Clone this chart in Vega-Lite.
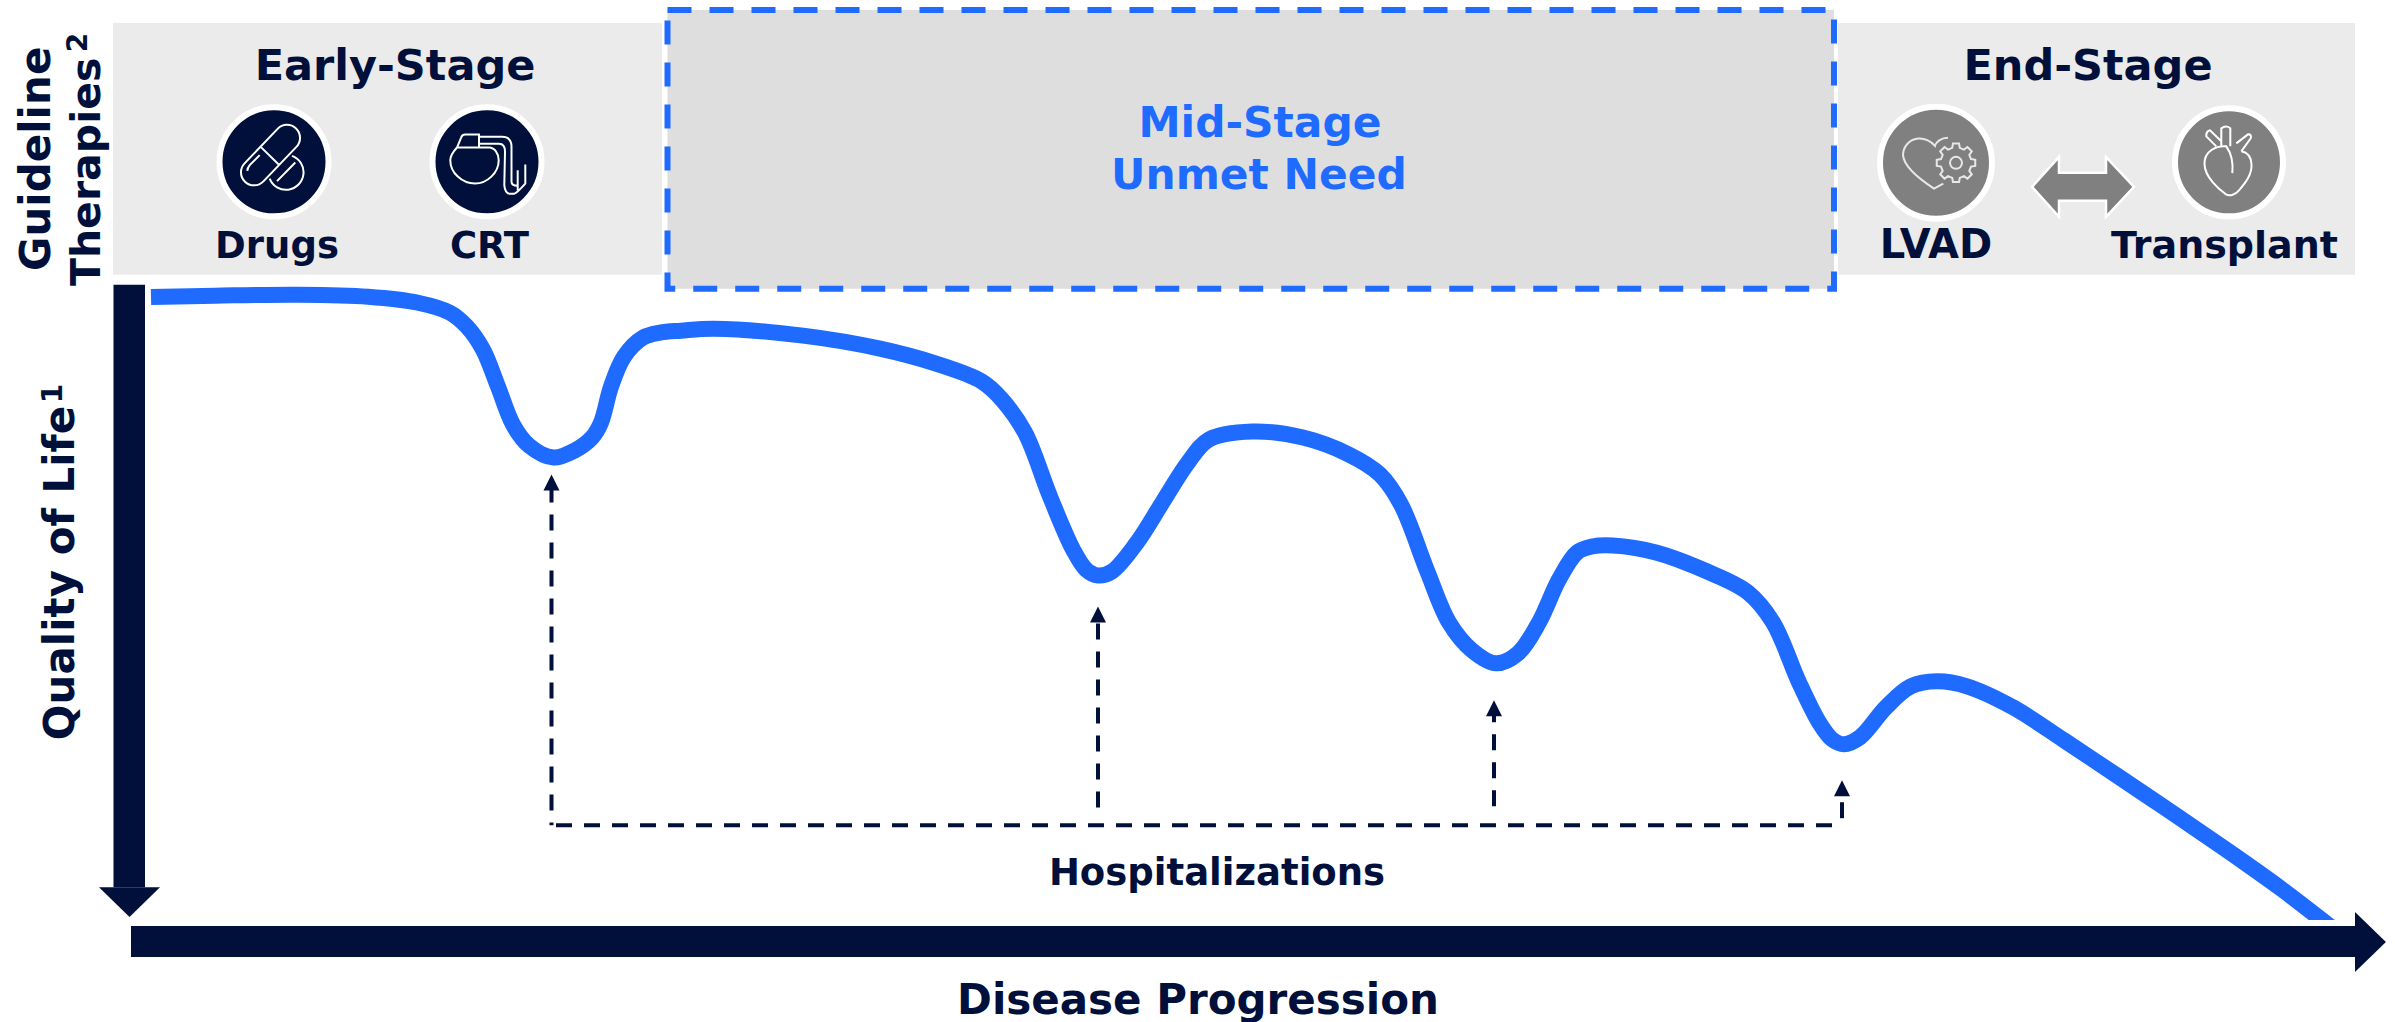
{"$schema":"https://vega.github.io/schema/vega-lite/v6.json","width":2395,"height":1022,"padding":0,"autosize":{"type":"fit","contains":"padding"},"background":"white","config":{"view":{"stroke":null},"style":{"cell":{"stroke":null}}},
"encoding":{"x":{"field":"x","type":"quantitative","axis":null,"scale":{"domain":[0,2395],"nice":false,"zero":false}},"y":{"field":"y","type":"quantitative","axis":null,"scale":{"domain":[1022,0],"nice":false,"zero":false}}},
"layer":[
{"data":{"values":[{"x":113,"x2":662,"y":23,"y2":275,"stage":"Early"},{"x":1838,"x2":2355,"y":23,"y2":275,"stage":"End"}]},"mark":{"type":"rect","fill":"#ebebeb"},"encoding":{"x2":{"field":"x2"},"y2":{"field":"y2"}}},
{"data":{"values":[{"x":667.5,"x2":1834,"y":10,"y2":289,"stage":"Mid"}]},"mark":{"type":"rect","fill":"#dedede","stroke":"#1f6bff","strokeWidth":6,"strokeDash":[24,18]},"encoding":{"x2":{"field":"x2"},"y2":{"field":"y2"}}},
{"data":{"values":[{"x":274,"y":162},{"x":487,"y":162}]},"mark":{"type":"point","shape":"circle","filled":true,"opacity":1,"fill":"#010f3b","stroke":"white","strokeWidth":6,"size":11881},"encoding":{}},
{"data":{"values":[{"x":1936,"y":163}]},"mark":{"type":"point","shape":"circle","filled":true,"opacity":1,"fill":"#808080","stroke":"white","strokeWidth":6,"size":12544},"encoding":{}},
{"data":{"values":[{"x":2229,"y":162.5}]},"mark":{"type":"point","shape":"circle","filled":true,"opacity":1,"fill":"#808080","stroke":"white","strokeWidth":6,"size":11664},"encoding":{}},
{"data":{"values":[{"x":274,"y":162,"icon":"Drugs"}]},"mark":{"type":"point","filled":false,"opacity":1,"stroke":"white","strokeWidth":2,"size":4,"shape":"M22.4,-15L-10.6,19.5A13,13,0,0,1,-29.4,1.5L3.6,-33A13,13,0,0,1,22.4,-15ZM-13.3,-15L4.7,2.7M-14.3,-6.7L-24.3,3.3Q-26.5,6,-26.7,9M18,-6A17.5,17.5,0,1,1,-4.3,16.7M21.3,0.7L3,19.3"},"encoding":{}},
{"data":{"values":[{"x":487,"y":162,"icon":"CRT"}]},"mark":{"type":"point","filled":false,"opacity":1,"stroke":"white","strokeWidth":2,"size":4,"shape":"M-30,-14.3L2,-14.3C8,-14,11.7,-8,11.7,-1.7C11.7,11,0,21.7,-12,21.7C-25,21.7,-36.7,11,-36.7,-1.7C-36.7,-6,-33,-11,-30,-14.3M-30,-14.3L-26,-24Q-25,-27.3,-22,-27.3L-8,-27.3L-8,-14.3M-8,-25L15,-25Q24.5,-25,24.5,-15L24.5,20Q24.5,24,30.7,24M-8,-18L12,-18Q18,-18,18,-10L17.3,23.3Q18,32,23.3,32L27,32Q30,31,38.3,21.7L38.3,2.7M30.7,8.3L30.7,28.3"},"encoding":{}},
{"data":{"values":[{"x":1936,"y":163,"icon":"LVAD heart"}]},"mark":{"type":"point","filled":false,"opacity":1,"stroke":"#e8e8e8","strokeWidth":2,"size":4,"shape":"M12,-25C5,-25,0,-21,-1,-17C-5,-22,-12,-25,-18,-24.3C-28,-23,-33,-15,-33,-7.7C-32,4,-17,16,-2,25.7L7.3,20.7"},"encoding":{}},
{"data":{"values":[{"x":1956,"y":163,"icon":"LVAD gear"}]},"mark":{"type":"point","filled":false,"opacity":1,"stroke":"#e8e8e8","strokeWidth":2,"size":4,"shape":"M15.04,-3.75L19.26,-3.05L19.26,3.05L15.04,3.75L13.29,7.98L15.78,11.46L11.46,15.78L7.98,13.29L3.75,15.04L3.05,19.26L-3.05,19.26L-3.75,15.04L-7.98,13.29L-11.46,15.78L-15.78,11.46L-13.29,7.98L-15.04,3.75L-19.26,3.05L-19.26,-3.05L-15.04,-3.75L-13.29,-7.98L-15.78,-11.46L-11.46,-15.78L-7.98,-13.29L-3.75,-15.04L-3.05,-19.26L3.05,-19.26L3.75,-15.04L7.98,-13.29L11.46,-15.78L15.78,-11.46L13.29,-7.98ZM6,0A6,6,0,1,1,-6,0A6,6,0,1,1,6,0Z"},"encoding":{}},
{"data":{"values":[{"x":2229,"y":162.5,"icon":"Heart"}]},"mark":{"type":"point","filled":false,"opacity":1,"stroke":"white","strokeWidth":2,"size":4,"shape":"M-2,-16C-12,-17,-25,-12,-24.5,2C-24,15,-10,27,-3,32C0,34,6,33,10,28C17,20,23,12,22.5,2C22,-6,18,-10,12.3,-11M-12.7,-16L-22.7,-26Q-23,-31,-19,-32L-7.7,-21M-7.7,-16L-7.7,-34Q-3,-37.5,1.3,-34L1.3,-16M7.3,-19L19,-28Q23,-28,21.7,-24L12.3,-11M-2.7,-16Q5,-5,3.3,10.7"},"encoding":{}},
{"data":{"values":[{"x":2083,"y":187,"icon":"Double arrow"}]},"mark":{"type":"point","filled":true,"opacity":1,"fill":"#808080","stroke":"white","strokeWidth":2.5,"size":4,"shape":"M-51,0L-24,-30L-24,-14L23,-14L23,-30L51,0L23,30L23,14L-24,14L-24,30Z"},"encoding":{}},
{"data":{"values":[{"x":151,"y":297.3},{"x":215,"y":296},{"x":299,"y":295},{"x":368,"y":297},{"x":418,"y":303},{"x":450,"y":313},{"x":467,"y":327},{"x":483,"y":350},{"x":498,"y":387},{"x":513,"y":425},{"x":529,"y":446},{"x":553.5,"y":458},{"x":574.5,"y":451},{"x":592,"y":438},{"x":601,"y":423},{"x":611,"y":387},{"x":624,"y":357},{"x":643,"y":338},{"x":660,"y":333},{"x":681,"y":331},{"x":714,"y":329},{"x":803,"y":336},{"x":880,"y":349},{"x":936,"y":364},{"x":982,"y":382},{"x":1002,"y":400},{"x":1025,"y":433},{"x":1050,"y":497},{"x":1073,"y":550},{"x":1086,"y":570},{"x":1098,"y":576},{"x":1112,"y":572},{"x":1137,"y":543},{"x":1163,"y":502},{"x":1188,"y":463},{"x":1209,"y":440},{"x":1252,"y":432},{"x":1303,"y":438},{"x":1349,"y":455},{"x":1380,"y":475},{"x":1401,"y":505},{"x":1427,"y":571},{"x":1449,"y":623},{"x":1472,"y":651},{"x":1496,"y":664},{"x":1518,"y":654},{"x":1539,"y":623},{"x":1559,"y":580},{"x":1577,"y":553},{"x":1592,"y":547},{"x":1613,"y":546},{"x":1656,"y":553},{"x":1707,"y":572},{"x":1748,"y":593},{"x":1773,"y":623},{"x":1799,"y":683},{"x":1819,"y":723},{"x":1832,"y":740},{"x":1844,"y":745},{"x":1860,"y":738},{"x":1886,"y":708},{"x":1911,"y":687},{"x":1937,"y":682},{"x":1967,"y":687},{"x":2013,"y":708},{"x":2064,"y":741},{"x":2118,"y":777},{"x":2161,"y":806},{"x":2202,"y":834},{"x":2244,"y":863},{"x":2283,"y":891},{"x":2322,"y":921},{"x":2342,"y":937}]},"mark":{"type":"line","color":"#1f6bff","strokeWidth":16,"interpolate":"catmull-rom","strokeCap":"butt"},"encoding":{}},
{"data":{"values":[{"x":2290,"x2":2352,"y":921,"y2":927}]},"mark":{"type":"rect","fill":"white"},"encoding":{"x2":{"field":"x2"},"y2":{"field":"y2"}}},
{"data":{"values":[{"x":113.5,"x2":145,"y":285,"y2":888},{"x":131,"x2":2355,"y":927,"y2":958}]},"mark":{"type":"rect","fill":"#010f3b"},"encoding":{"x2":{"field":"x2"},"y2":{"field":"y2"}}},
{"data":{"values":[{"x":129.5,"y":888,"icon":"Quality of Life arrowhead"}]},"mark":{"type":"point","filled":true,"opacity":1,"fill":"#010f3b","strokeWidth":0,"size":3721,"shape":"M-1,0L1,0L0,0.98Z"},"encoding":{}},
{"data":{"values":[{"x":2355,"y":943,"icon":"Disease Progression arrowhead"}]},"mark":{"type":"point","filled":true,"opacity":1,"fill":"#010f3b","strokeWidth":0,"size":3600,"shape":"M0,-1L1.03,0L0,1Z"},"encoding":{}},
{"data":{"values":[{"x":551.5,"y":487,"y2":826},{"x":1098,"y":624,"y2":810},{"x":1494,"y":707,"y2":808},{"x":1842,"y":803,"y2":819}]},"mark":{"type":"rule","color":"#010f3b","strokeWidth":4,"strokeDash":[16,12]},"encoding":{"y2":{"field":"y2"}}},
{"data":{"values":[{"x":1832,"x2":551,"y":826}]},"mark":{"type":"rule","color":"#010f3b","strokeWidth":4,"strokeDash":[16,12]},"encoding":{"x2":{"field":"x2"}}},
{"data":{"values":[{"x":551.5,"y":483},{"x":1098,"y":615},{"x":1494,"y":709},{"x":1842,"y":789}]},"mark":{"type":"point","filled":true,"opacity":1,"fill":"#010f3b","strokeWidth":0,"size":256,"shape":"M-1,1L1,1L0,-1Z"},"encoding":{}},
{"data":{"values":[{"x":50,"y":159,"label":"Guideline"}]},"mark":{"type":"text","font":"DejaVu Sans","fontWeight":"bold","fontSize":42,"color":"#010f3b","angle":270,"align":"center","baseline":"alphabetic"},"encoding":{"text":{"field":"label"}}},
{"data":{"values":[{"x":100,"y":172,"label":"Therapies"}]},"mark":{"type":"text","font":"DejaVu Sans","fontWeight":"bold","fontSize":41,"color":"#010f3b","angle":270,"align":"center","baseline":"alphabetic"},"encoding":{"text":{"field":"label"}}},
{"data":{"values":[{"x":74,"y":573.5,"label":"Quality of Life"}]},"mark":{"type":"text","font":"DejaVu Sans","fontWeight":"bold","fontSize":42,"color":"#010f3b","angle":270,"align":"center","baseline":"alphabetic"},"encoding":{"text":{"field":"label"}}},
{"data":{"values":[{"x":87,"y":42.5,"label":"2"},{"x":62,"y":394,"label":"1"}]},"mark":{"type":"text","font":"DejaVu Sans","fontWeight":"bold","fontSize":28,"color":"#010f3b","angle":270,"align":"center","baseline":"alphabetic"},"encoding":{"text":{"field":"label"}}},
{"data":{"values":[{"x":395,"y":80,"label":"Early-Stage"},{"x":2088,"y":80,"label":"End-Stage"}]},"mark":{"type":"text","font":"DejaVu Sans","fontWeight":"bold","fontSize":43,"color":"#010f3b","align":"center","baseline":"alphabetic"},"encoding":{"text":{"field":"label"}}},
{"data":{"values":[{"x":277,"y":258,"label":"Drugs"},{"x":489.5,"y":258,"label":"CRT"},{"x":1217,"y":886,"label":"Hospitalizations"}]},"mark":{"type":"text","font":"DejaVu Sans","fontWeight":"bold","fontSize":37,"color":"#010f3b","align":"center","baseline":"alphabetic"},"encoding":{"text":{"field":"label"}}},
{"data":{"values":[{"x":1936,"y":258,"label":"LVAD"}]},"mark":{"type":"text","font":"DejaVu Sans","fontWeight":"bold","fontSize":40,"color":"#010f3b","align":"center","baseline":"alphabetic"},"encoding":{"text":{"field":"label"}}},
{"data":{"values":[{"x":2224.5,"y":258,"label":"Transplant"}]},"mark":{"type":"text","font":"DejaVu Sans","fontWeight":"bold","fontSize":38,"color":"#010f3b","align":"center","baseline":"alphabetic"},"encoding":{"text":{"field":"label"}}},
{"data":{"values":[{"x":1260,"y":137,"label":"Mid-Stage"},{"x":1259,"y":189,"label":"Unmet Need"}]},"mark":{"type":"text","font":"DejaVu Sans","fontWeight":"bold","fontSize":42.4,"color":"#1f6bff","align":"center","baseline":"alphabetic"},"encoding":{"text":{"field":"label"}}},
{"data":{"values":[{"x":1198,"y":1015,"label":"Disease Progression"}]},"mark":{"type":"text","font":"DejaVu Sans","fontWeight":"bold","fontSize":42,"color":"#010f3b","align":"center","baseline":"alphabetic"},"encoding":{"text":{"field":"label"}}}
]}
